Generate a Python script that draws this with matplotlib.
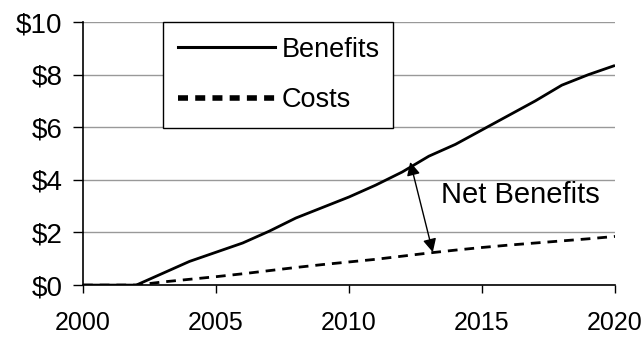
import matplotlib.pyplot as plt
from matplotlib.lines import Line2D

plt.rcParams['font.family'] = ['Liberation Sans', 'DejaVu Sans']

years = list(range(2000, 2021))
benefits = [0, 0, 0, 0.45, 0.9, 1.25, 1.6, 2.05, 2.55, 2.95, 3.35, 3.8, 4.3,
            4.9, 5.35, 5.9, 6.45, 7.0, 7.6, 8.0, 8.35]
costs = [0, 0, 0, 0.12, 0.22, 0.32, 0.43, 0.55, 0.67, 0.78, 0.88, 0.98, 1.1,
         1.22, 1.33, 1.43, 1.52, 1.6, 1.68, 1.76, 1.85]
yticks = [0, 2, 4, 6, 8, 10]
ytick_labels = ['$0', '$2', '$4', '$6', '$8', '$10']
xticks = [2000, 2005, 2010, 2015, 2020]

fig = plt.figure(figsize=(6.44, 3.39), dpi=100)
ax = fig.add_axes([0.129, 0.159, 0.826, 0.776])

ax.plot(years, benefits, color='black', lw=2, solid_capstyle='butt')
ax.plot(years, costs, color='black', lw=2, dashes=(3.5, 2.5))

ax.set_xlim(2000, 2020)
ax.set_ylim(0, 10)
ax.set_yticks(yticks)
ax.set_yticklabels(ytick_labels, fontsize=20)
ax.set_xticks(xticks)
ax.set_xticklabels([str(x) for x in xticks], fontsize=18)
ax.tick_params(axis='y', length=7, width=1, pad=8)
ax.tick_params(axis='x', length=6, width=1, pad=13)
ax.grid(axis='y', color='#999999', lw=1)
ax.set_axisbelow(True)
for s in ['top', 'right']:
    ax.spines[s].set_visible(False)
for s in ['left', 'bottom']:
    ax.spines[s].set_linewidth(1.2)

# net benefits arrow
ax.annotate('', xy=(2012.3, 4.68), xytext=(2013.15, 1.25),
            arrowprops=dict(arrowstyle='<|-|>', color='black', lw=1,
                            mutation_scale=20, shrinkA=0, shrinkB=0))
ax.text(2013.45, 3.42, 'Net Benefits', fontsize=21, va='center', ha='left')

handles = [Line2D([], [], color='black', lw=2.2),
           Line2D([], [], color='black', lw=4, dashes=(1.8, 1.3))]
leg = ax.legend(handles, ['Benefits', 'Costs'], loc='upper left',
                bbox_to_anchor=(0.15, 0.6, 0.432, 0.4), mode='expand',
                fontsize=19.5, handlelength=3.6, handletextpad=0.25,
                labelspacing=0.9, borderpad=0.55, borderaxespad=0,
                fancybox=False, framealpha=1, edgecolor='black')
leg.get_frame().set_linewidth(1)

fig.savefig('out.png', dpi=100, facecolor='white')
